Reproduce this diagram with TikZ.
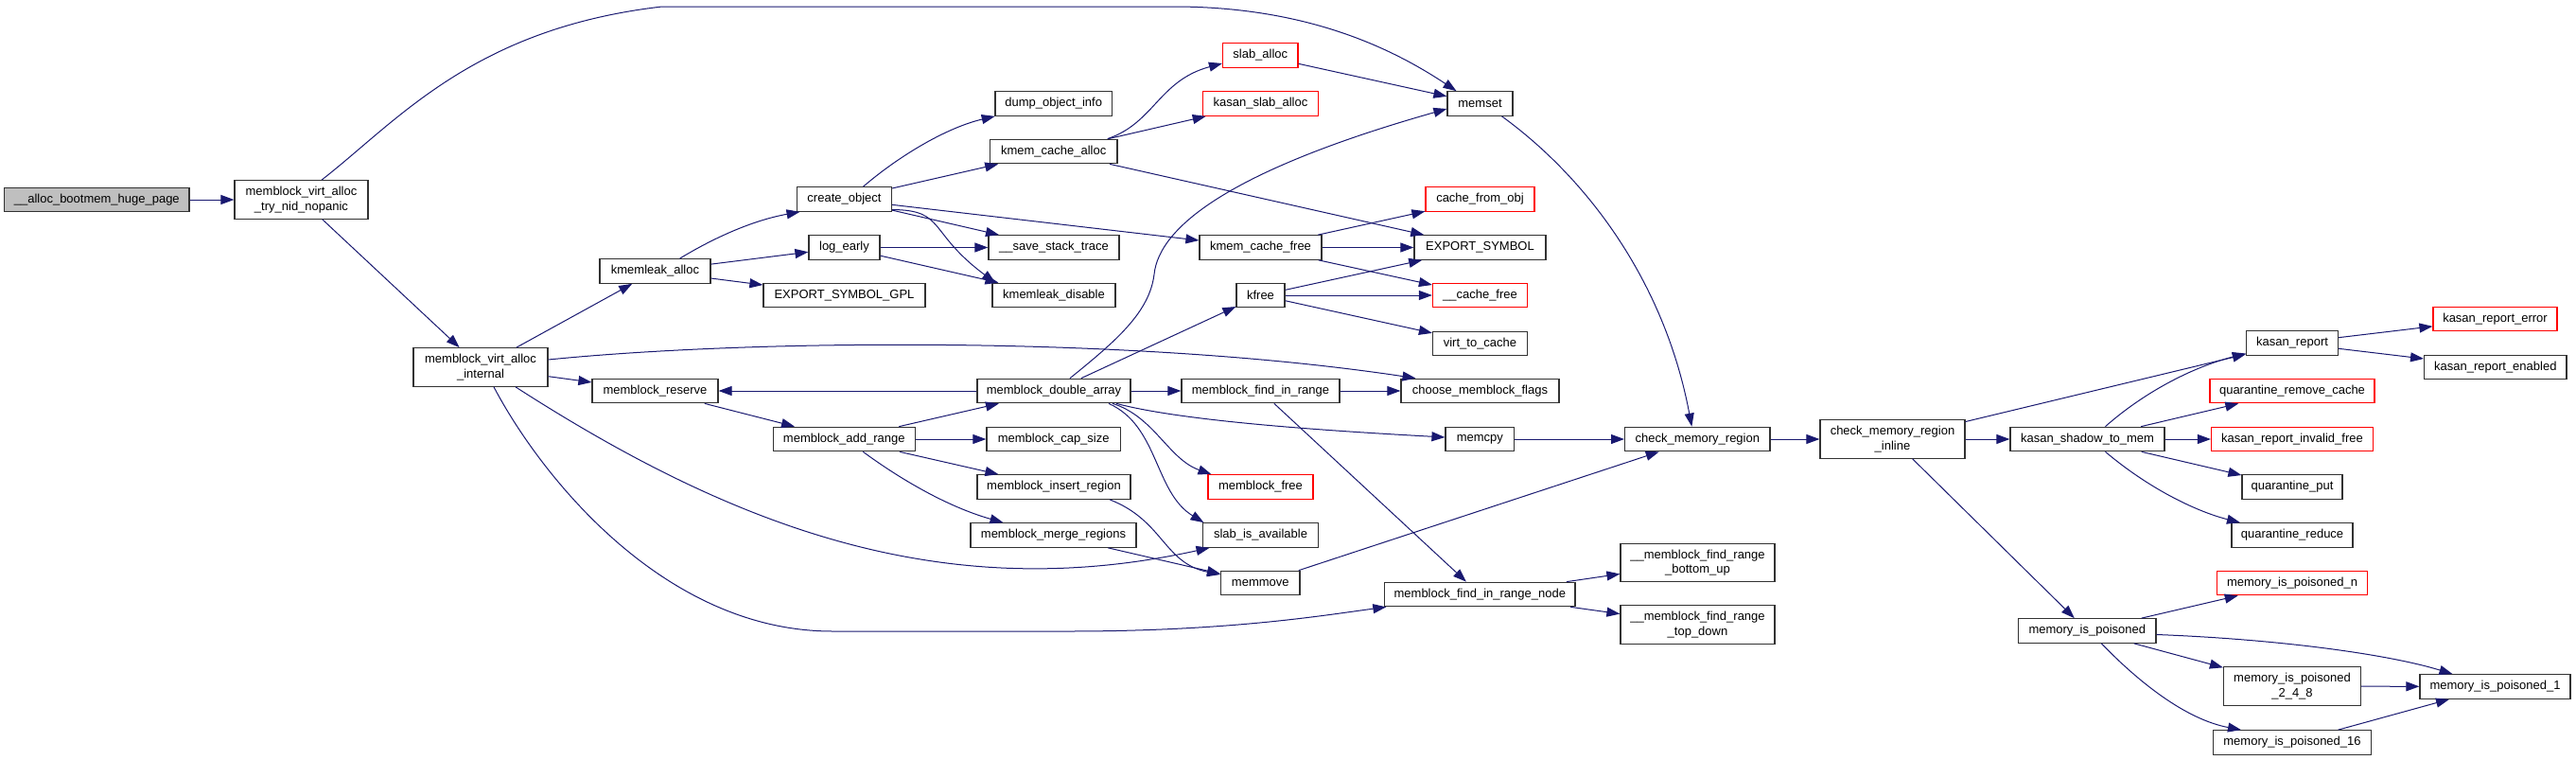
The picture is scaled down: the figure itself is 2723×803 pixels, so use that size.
\documentclass[tikz,border=0pt]{standalone}
\usepackage{fontspec}
\setmainfont{Liberation Sans}
\usetikzlibrary{arrows.meta}
\definecolor{edgeblue}{RGB}{25,25,112}
\definecolor{nodegray}{RGB}{191,191,191}
\definecolor{boxline}{RGB}{50,50,50}
\tikzset{
  fn/.style={draw=boxline, line width=1.2pt, fill=white, inner sep=0pt,
    minimum height=25.5pt, align=center, font=\fontsize{13}{15.3}\selectfont},
  two/.style={minimum height=40.5pt},
  redfn/.style={fn, draw=red},
  call/.style={draw=edgeblue, line width=1pt, -{Triangle[length=14pt,width=10pt]}},
}
\begin{document}
\begin{tikzpicture}[x=1pt, y=-1pt]
\useasboundingbox (0,0) rectangle (2723,803);
% nodes
\node[fn, fill=nodegray, minimum width=195.5pt] (huge) at (102.3,211) {\_\_alloc\_bootmem\_huge\_page};
\node[fn, two, minimum width=141pt] (nopanic) at (318.5,211) {memblock\_virt\_alloc\\\_try\_nid\_nopanic};
\node[fn, two, minimum width=142pt] (internal) at (508,388) {memblock\_virt\_alloc\\\_internal};
\node[fn, minimum width=117pt] (kla) at (692.5,286.5) {kmemleak\_alloc};
\node[fn, minimum width=133pt] (reserve) at (692.5,413) {memblock\_reserve};
\node[fn, minimum width=100pt] (create) at (892.5,210.5) {create\_object};
\node[fn, minimum width=75pt] (logearly) at (892.5,261.5) {log\_early};
\node[fn, minimum width=171pt] (esgpl) at (892.5,312) {EXPORT\_SYMBOL\_GPL};
\node[fn, minimum width=150pt] (addrange) at (892.3,464) {memblock\_add\_range};
\node[fn, minimum width=123.5pt] (dump) at (1113.7,109.5) {dump\_object\_info};
\node[fn, minimum width=134.5pt] (kca) at (1113.7,160) {kmem\_cache\_alloc};
\node[fn, minimum width=138pt] (sst) at (1114,261.5) {\_\_save\_stack\_trace};
\node[fn, minimum width=130pt] (kld) at (1114,312) {kmemleak\_disable};
\node[fn, minimum width=162pt] (dbl) at (1114,413) {memblock\_double\_array};
\node[fn, minimum width=141.5pt] (cap) at (1113.7,464) {memblock\_cap\_size};
\node[fn, minimum width=162pt] (insert) at (1114,514.5) {memblock\_insert\_region};
\node[fn, minimum width=175pt] (merge) at (1113.5,565.5) {memblock\_merge\_regions};
\node[redfn, minimum width=79.5pt] (slaballoc) at (1332.3,58.5) {slab\_alloc};
\node[redfn, minimum width=122pt] (ksa) at (1332.5,109.5) {kasan\_slab\_alloc};
\node[fn, minimum width=129pt] (kcf) at (1332.5,261.5) {kmem\_cache\_free};
\node[fn, minimum width=51pt] (kfree) at (1332.5,312) {kfree};
\node[fn, minimum width=167pt] (fir) at (1332.5,413) {memblock\_find\_in\_range};
\node[redfn, minimum width=111pt] (mbfree) at (1332.5,514.5) {memblock\_free};
\node[fn, minimum width=122pt] (sia) at (1332.5,565.5) {slab\_is\_available};
\node[fn, minimum width=83.3pt] (memmove) at (1332.3,616) {memmove};
\node[fn, minimum width=69pt] (memset) at (1564.5,109.5) {memset};
\node[redfn, minimum width=115pt] (cfo) at (1564.5,210.5) {cache\_from\_obj};
\node[fn, minimum width=139pt] (es) at (1564.5,261.5) {EXPORT\_SYMBOL};
\node[redfn, minimum width=100pt] (cfree) at (1564.5,312) {\_\_cache\_free};
\node[fn, minimum width=100pt] (v2c) at (1564.5,363) {virt\_to\_cache};
\node[fn, minimum width=167pt] (cmf) at (1564.5,413) {choose\_memblock\_flags};
\node[fn, minimum width=72.6pt] (memcpy) at (1564.3,464) {memcpy};
\node[fn, minimum width=201.5pt] (firn) at (1564.3,628) {memblock\_find\_in\_range\_node};
\node[fn, minimum width=153.4pt] (cmr) at (1794.3,464) {check\_memory\_region};
\node[fn, two, minimum width=163pt] (bu) at (1794.5,594.5) {\_\_memblock\_find\_range\\\_bottom\_up};
\node[fn, two, minimum width=163pt] (td) at (1794.5,660) {\_\_memblock\_find\_range\\\_top\_down};
\node[fn, two, minimum width=153pt] (cmri) at (2000.5,464) {check\_memory\_region\\\_inline};
\node[fn, minimum width=163pt] (ksm) at (2206.5,464) {kasan\_shadow\_to\_mem};
\node[fn, minimum width=145.4pt] (mip) at (2206.3,666.5) {memory\_is\_poisoned};
\node[fn, minimum width=97pt] (kr) at (2423,362.5) {kasan\_report};
\node[redfn, minimum width=174pt] (qrc) at (2423,413) {quarantine\_remove\_cache};
\node[redfn, minimum width=171pt] (krif) at (2423,464) {kasan\_report\_invalid\_free};
\node[fn, minimum width=106pt] (qput) at (2423,514.5) {quarantine\_put};
\node[fn, minimum width=128pt] (qred) at (2423,565.5) {quarantine\_reduce};
\node[redfn, minimum width=159pt] (mipn) at (2423,616) {memory\_is\_poisoned\_n};
\node[fn, two, minimum width=145pt] (mip248) at (2423,725) {memory\_is\_poisoned\\\_2\_4\_8};
\node[fn, minimum width=167pt] (mip16) at (2423,784.5) {memory\_is\_poisoned\_16};
\node[redfn, minimum width=131pt] (kre) at (2637.5,337) {kasan\_report\_error};
\node[fn, minimum width=150.4pt] (kren) at (2637.8,388) {kasan\_report\_enabled};
\node[fn, minimum width=159pt] (mip1) at (2637.5,725.5) {memory\_is\_poisoned\_1};
% straight edges
\draw[call] (huge) -- (nopanic);
\draw[call] (nopanic) -- (internal);
\draw[call] (internal) -- (kla);
\draw[call] (internal) -- (reserve);
\draw[call] (kla) -- (logearly);
\draw[call] (kla) -- (esgpl);
\draw[call] (create) -- (kca);
\draw[call] (create) -- (kcf);
\draw[call] (create) -- (sst);
\draw[call] (logearly) -- (sst);
\draw[call] (logearly) -- (kld);
\draw[call] (kca) -- (ksa);
\draw[call] (kca) -- (es);
\draw[call] (slaballoc) -- (memset);
\draw[call] (dbl) -- (reserve);
\draw[call] (dbl) -- (kfree);
\draw[call] (dbl) -- (fir);
\draw[call] (reserve) -- (addrange);
\draw[call] (addrange) -- (dbl);
\draw[call] (addrange) -- (cap);
\draw[call] (addrange) -- (insert);
\draw[call] (merge) -- (memmove);
\draw[call] (kcf) -- (cfo);
\draw[call] (kcf) -- (es);
\draw[call] (kcf) -- (cfree);
\draw[call] (kfree) -- (es);
\draw[call] (kfree) -- (cfree);
\draw[call] (kfree) -- (v2c);
\draw[call] (fir) -- (cmf);
\draw[call] (fir) -- (firn);
\draw[call] (memcpy) -- (cmr);
\draw[call] (memmove) -- (cmr);
\draw[call] (firn) -- (bu);
\draw[call] (firn) -- (td);
\draw[call] (cmr) -- (cmri);
\draw[call] (cmri) -- (kr);
\draw[call] (cmri) -- (ksm);
\draw[call] (cmri) -- (mip);
\draw[call] (ksm) -- (qrc);
\draw[call] (ksm) -- (krif);
\draw[call] (ksm) -- (qput);
\draw[call] (kr) -- (kre);
\draw[call] (kr) -- (kren);
\draw[call] (mip) -- (mipn);
\draw[call] (mip) -- (mip248);
\draw[call] (mip248) -- (mip1);
\draw[call] (mip16) -- (mip1);
% curved edges
\draw[call] ([xshift=21.5pt]nopanic.north) .. controls (420,128) and (500,30) .. (700,7) -- (1240,7) .. controls (1380,7) and (1470,50) .. ([xshift=-25pt]memset.north);
\draw[call] ([yshift=8pt]internal.east) .. controls (800,358) and (1200,355) .. ([xshift=-68pt]cmf.north);
\draw[call] ([xshift=37pt]internal.south) .. controls (780,560) and (1000,640) .. ([xshift=-54pt]sia.south);
\draw[call] ([xshift=14pt]internal.south) .. controls (570,500) and (700,667) .. (880,667) -- (1130,667) .. controls (1300,667) and (1400,650) .. ([xshift=-99pt]firn.south);
\draw[call] ([xshift=26pt]kla.north) .. controls (760,248) and (800,232) .. ([xshift=-47pt]create.south);
\draw[call] ([xshift=20pt]create.north) .. controls (950,165) and (1000,135) .. ([xshift=-62pt]dump.south);
\draw[call] ([yshift=-11pt]create.east) .. controls (1000,222) and (980,245) .. ([xshift=-62pt]kld.north);
\draw[call] ([xshift=57pt]kca.north) .. controls (1220,130) and (1225,85) .. ([yshift=-8.5pt]slaballoc.west);
\draw[call] ([xshift=17pt]dbl.north) .. controls (1180,360) and (1215,330) .. (1220,290) .. controls (1225,240) and (1300,180) .. ([yshift=-5.5pt]memset.west);
\draw[call] ([xshift=66pt]dbl.south) .. controls (1250,445) and (1400,455) .. ([yshift=2pt]memcpy.west);
\draw[call] ([xshift=62pt]dbl.south) .. controls (1220,440) and (1235,485) .. ([xshift=-52pt]mbfree.north);
\draw[call] ([xshift=58pt]dbl.south) .. controls (1225,450) and (1220,520) .. ([xshift=-60pt]sia.north);
\draw[call] ([xshift=20pt]addrange.south) .. controls (950,505) and (1000,535) .. ([xshift=-53pt]merge.north);
\draw[call] ([xshift=59pt]insert.south) .. controls (1230,550) and (1230,595) .. ([yshift=9pt]memmove.west);
\draw[call] ([xshift=23pt]memset.south) .. controls (1680,190) and (1760,300) .. ([xshift=-6pt]cmr.north);
\draw[call] ([xshift=19pt]ksm.north) .. controls (2260,420) and (2310,390) .. ([yshift=-11pt]kr.west);
\draw[call] ([xshift=19pt]ksm.south) .. controls (2270,515) and (2320,540) .. ([xshift=-55pt]qred.north);
\draw[call] ([yshift=-4pt]mip.east) .. controls (2400,675) and (2520,690) .. ([xshift=-45pt]mip1.north);
\draw[call] ([xshift=15pt]mip.south) .. controls (2260,720) and (2310,760) .. ([xshift=-54pt]mip16.north);
\end{tikzpicture}
\end{document}
